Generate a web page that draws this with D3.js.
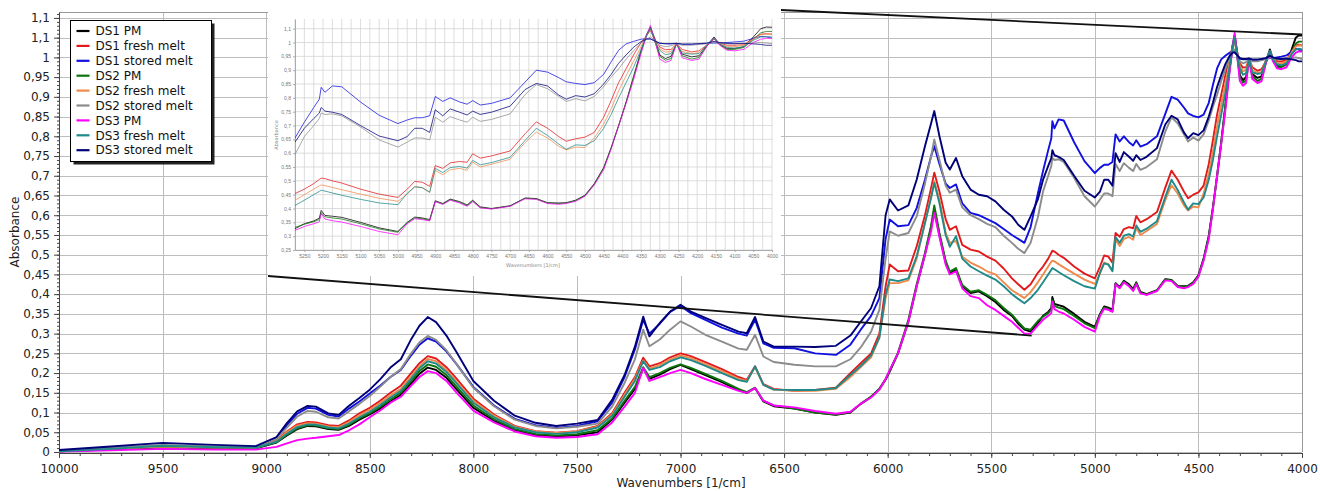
<!DOCTYPE html>
<html>
<head>
<meta charset="utf-8">
<script src="https://d3js.org/d3.v7.min.js"></script>
<style>
  body { margin: 0; background: #fff; }
  svg { display: block; font-family: "DejaVu Sans", Verdana, sans-serif; }
</style>
</head>
<body>
<svg id="chart" width="1320" height="491"></svg>
<script>
// wavenumber grid (1/cm), shared by every spectrum
const wavenumbers = [
  10000, 9750, 9500, 9250, 9050,
  8950, 8900, 8850, 8800, 8760, 8700, 8650, 8600, 8550, 8500, 8450, 8400, 8350, 8300, 8260, 8220, 8180, 8130, 8080, 8000, 7900, 7800, 7700, 7600, 7500,
  7400, 7330, 7270, 7220, 7180, 7150, 7100, 7050, 7000, 6950, 6880, 6800, 6720, 6680, 6640, 6600, 6550, 6450, 6350, 6250, 6180, 6130, 6080, 6040, 6010,
  5990, 5950, 5900, 5860, 5820, 5790, 5775, 5750, 5720, 5700, 5670, 5640, 5600, 5560, 5520, 5480, 5440, 5400, 5370, 5340, 5310,
  5275, 5250, 5225, 5210, 5205, 5195, 5175, 5150, 5100, 5050, 5000, 4975, 4955, 4935, 4915, 4900, 4880, 4860, 4835, 4815, 4800, 4780, 4750, 4700, 4660, 4630, 4600, 4570, 4550, 4525, 4500, 4475, 4450, 4430, 4410, 4390, 4370, 4350, 4335, 4325, 4312, 4300, 4285, 4270, 4255, 4240, 4215, 4195, 4175, 4155, 4140, 4120, 4100, 4075, 4050, 4030, 4015, 4000
];

const ds1PM = [
  0.002, 0.006, 0.012, 0.010, 0.009,
  0.024, 0.042, 0.058, 0.066, 0.065, 0.058, 0.056, 0.066, 0.082, 0.095, 0.11, 0.128, 0.145, 0.174, 0.198, 0.214, 0.208, 0.188, 0.158, 0.112, 0.079, 0.055, 0.043, 0.039, 0.042,
  0.05, 0.082, 0.125, 0.16, 0.212, 0.185, 0.196, 0.21, 0.221, 0.21, 0.195, 0.177, 0.157, 0.15, 0.162, 0.128, 0.116, 0.11, 0.1, 0.094, 0.1, 0.122, 0.14, 0.16, 0.183,
  0.204, 0.25, 0.33, 0.42, 0.5, 0.57, 0.615, 0.55, 0.48, 0.453, 0.462, 0.42, 0.403, 0.407, 0.395, 0.38, 0.36, 0.345, 0.325, 0.31, 0.305,
  0.327, 0.345, 0.355, 0.365, 0.393, 0.375, 0.372, 0.368, 0.35, 0.33, 0.317, 0.35, 0.369, 0.366, 0.36, 0.428, 0.418, 0.434, 0.425, 0.413, 0.43, 0.406, 0.4, 0.41, 0.438, 0.436, 0.421, 0.42, 0.421, 0.43, 0.448, 0.49, 0.548, 0.62, 0.70, 0.785, 0.877, 0.97, 1.03, 1.056, 1.01, 0.955, 0.942, 0.95, 0.996, 0.958, 0.948, 0.952, 0.988, 1.02, 0.995, 0.978, 0.978, 0.985, 1.02, 1.05, 1.056, 1.055
];
const ds1Fresh = [
  0.003, 0.008, 0.014, 0.011, 0.011,
  0.03, 0.052, 0.07, 0.076, 0.075, 0.068, 0.066, 0.08, 0.098, 0.112, 0.13, 0.15, 0.168, 0.2, 0.225, 0.243, 0.237, 0.215, 0.185, 0.135, 0.095, 0.066, 0.053, 0.049, 0.053,
  0.066, 0.098, 0.15, 0.19, 0.239, 0.217, 0.225, 0.24, 0.25, 0.243, 0.228, 0.21, 0.19, 0.183, 0.217, 0.172, 0.16, 0.155, 0.157, 0.163, 0.2, 0.225, 0.25, 0.3, 0.42,
  0.475, 0.458, 0.46, 0.521, 0.6, 0.67, 0.708, 0.66, 0.59, 0.563, 0.572, 0.525, 0.513, 0.508, 0.495, 0.485, 0.465, 0.44, 0.425, 0.411, 0.425,
  0.454, 0.47, 0.49, 0.505, 0.51, 0.508, 0.5, 0.492, 0.47, 0.452, 0.44, 0.47, 0.498, 0.495, 0.48, 0.555, 0.545, 0.565, 0.57, 0.567, 0.598, 0.582, 0.59, 0.608, 0.67, 0.713, 0.69, 0.66, 0.643, 0.652, 0.658, 0.675, 0.73, 0.79, 0.855, 0.905, 0.955, 1.0, 1.025, 1.044, 1.01, 0.984, 0.974, 0.975, 0.995, 0.975, 0.966, 0.97, 0.99, 1.012, 0.998, 0.99, 0.99, 0.992, 1.015, 1.03, 1.032, 1.03
];
const ds1Stored = [
  0.004, 0.010, 0.015, 0.013, 0.013,
  0.035, 0.068, 0.097, 0.112, 0.11, 0.094, 0.09, 0.11, 0.128, 0.148, 0.168, 0.19, 0.208, 0.245, 0.272, 0.288, 0.28, 0.255, 0.222, 0.165, 0.118, 0.084, 0.068, 0.061, 0.066,
  0.078, 0.125, 0.19, 0.26, 0.335, 0.3, 0.325, 0.355, 0.37, 0.352, 0.335, 0.315, 0.3, 0.295, 0.335, 0.275, 0.264, 0.263, 0.25, 0.246, 0.272, 0.31, 0.345, 0.39, 0.54,
  0.589, 0.572, 0.575, 0.618, 0.69, 0.75, 0.775, 0.73, 0.68, 0.669, 0.678, 0.63, 0.606, 0.6, 0.59, 0.58, 0.565, 0.55, 0.54, 0.53, 0.57,
  0.655, 0.712, 0.765, 0.795, 0.838, 0.82, 0.843, 0.84, 0.785, 0.737, 0.707, 0.72, 0.728, 0.728, 0.735, 0.805, 0.787, 0.80, 0.785, 0.777, 0.79, 0.774, 0.78, 0.80, 0.857, 0.9, 0.893, 0.873, 0.858, 0.852, 0.848, 0.855, 0.885, 0.93, 0.972, 0.995, 1.004, 1.012, 1.014, 1.013, 1.005, 0.998, 0.995, 0.995, 0.997, 0.993, 0.993, 0.995, 0.997, 0.998, 0.998, 1.0, 1.002, 1.005, 1.015, 1.022, 1.02, 1.016
];
const ds2PM = [
  0.002, 0.007, 0.013, 0.011, 0.010,
  0.025, 0.044, 0.06, 0.068, 0.067, 0.06, 0.058, 0.069, 0.085, 0.098, 0.114, 0.133, 0.15, 0.18, 0.205, 0.222, 0.216, 0.195, 0.165, 0.118, 0.083, 0.058, 0.046, 0.042, 0.045,
  0.055, 0.085, 0.13, 0.165, 0.215, 0.19, 0.2, 0.213, 0.222, 0.213, 0.198, 0.18, 0.16, 0.152, 0.163, 0.13, 0.118, 0.11, 0.1, 0.095, 0.101, 0.122, 0.14, 0.16, 0.185,
  0.206, 0.252, 0.335, 0.425, 0.505, 0.575, 0.625, 0.555, 0.485, 0.457, 0.466, 0.423, 0.406, 0.41, 0.398, 0.385, 0.365, 0.348, 0.33, 0.313, 0.31,
  0.332, 0.343, 0.352, 0.36, 0.385, 0.37, 0.366, 0.362, 0.345, 0.326, 0.314, 0.348, 0.366, 0.363, 0.357, 0.426, 0.416, 0.432, 0.422, 0.41, 0.428, 0.404, 0.399, 0.409, 0.437, 0.435, 0.42, 0.418, 0.42, 0.428, 0.446, 0.487, 0.545, 0.618, 0.698, 0.783, 0.875, 0.968, 1.028, 1.05, 1.0, 0.95, 0.936, 0.942, 0.996, 0.952, 0.94, 0.946, 0.985, 1.015, 0.992, 0.975, 0.975, 0.982, 1.012, 1.035, 1.04, 1.04
];
const ds2Fresh = [
  0.003, 0.008, 0.014, 0.011, 0.011,
  0.028, 0.05, 0.067, 0.073, 0.072, 0.065, 0.063, 0.076, 0.093, 0.107, 0.124, 0.143, 0.16, 0.192, 0.217, 0.236, 0.23, 0.208, 0.178, 0.13, 0.092, 0.064, 0.052, 0.048, 0.052,
  0.064, 0.095, 0.145, 0.185, 0.232, 0.212, 0.22, 0.235, 0.245, 0.238, 0.222, 0.205, 0.186, 0.18, 0.215, 0.17, 0.158, 0.155, 0.155, 0.16, 0.19, 0.215, 0.24, 0.29, 0.39,
  0.428, 0.428, 0.435, 0.49, 0.58, 0.65, 0.686, 0.64, 0.555, 0.53, 0.535, 0.495, 0.48, 0.47, 0.458, 0.45, 0.43, 0.41, 0.4, 0.39, 0.405,
  0.43, 0.45, 0.47, 0.482, 0.485, 0.483, 0.476, 0.468, 0.452, 0.437, 0.426, 0.452, 0.48, 0.476, 0.46, 0.538, 0.522, 0.54, 0.545, 0.538, 0.568, 0.55, 0.56, 0.578, 0.638, 0.676, 0.655, 0.625, 0.612, 0.622, 0.62, 0.655, 0.705, 0.76, 0.825, 0.88, 0.932, 0.985, 1.025, 1.045, 1.0, 0.978, 0.965, 0.968, 0.995, 0.968, 0.96, 0.963, 0.99, 1.015, 0.996, 0.985, 0.985, 0.99, 1.012, 1.028, 1.03, 1.03
];
const ds2Stored = [
  0.003, 0.010, 0.018, 0.014, 0.012,
  0.033, 0.062, 0.09, 0.104, 0.102, 0.088, 0.085, 0.103, 0.122, 0.142, 0.165, 0.19, 0.21, 0.25, 0.278, 0.294, 0.284, 0.258, 0.222, 0.163, 0.116, 0.082, 0.066, 0.06, 0.064,
  0.072, 0.115, 0.175, 0.235, 0.31, 0.268, 0.285, 0.31, 0.331, 0.318, 0.297, 0.28, 0.262, 0.259, 0.297, 0.242, 0.228, 0.221, 0.217, 0.217, 0.235, 0.265, 0.305, 0.36, 0.49,
  0.559, 0.548, 0.555, 0.597, 0.68, 0.75, 0.792, 0.74, 0.675, 0.657, 0.665, 0.62, 0.6, 0.59, 0.578, 0.57, 0.548, 0.53, 0.515, 0.504, 0.53,
  0.595, 0.66, 0.70, 0.725, 0.745, 0.74, 0.742, 0.735, 0.695, 0.648, 0.622, 0.64, 0.655, 0.655, 0.648, 0.73, 0.712, 0.732, 0.72, 0.712, 0.73, 0.715, 0.722, 0.742, 0.812, 0.848, 0.833, 0.805, 0.787, 0.797, 0.789, 0.805, 0.84, 0.875, 0.905, 0.94, 0.97, 0.998, 1.012, 1.02, 1.008, 0.99, 0.985, 0.988, 0.995, 0.99, 0.99, 0.993, 0.995, 1.0, 0.998, 0.995, 0.995, 0.997, 0.998, 1.0, 0.998, 0.996
];
const ds3PM = [
  0.001, 0.004, 0.008, 0.006, 0.006,
  0.013, 0.022, 0.03, 0.034, 0.036, 0.04, 0.043, 0.055, 0.07, 0.088, 0.105, 0.125, 0.14, 0.168, 0.19, 0.205, 0.2, 0.18, 0.15, 0.105, 0.075, 0.052, 0.04, 0.036, 0.038,
  0.045, 0.075, 0.115, 0.15, 0.213, 0.18, 0.19, 0.2, 0.208, 0.2, 0.185, 0.17, 0.155, 0.15, 0.162, 0.13, 0.118, 0.113, 0.104, 0.097, 0.102, 0.122, 0.138, 0.158, 0.185,
  0.208, 0.25, 0.33, 0.42, 0.5, 0.56, 0.606, 0.545, 0.475, 0.45, 0.458, 0.415, 0.395, 0.39, 0.372, 0.36, 0.345, 0.33, 0.315, 0.30, 0.30,
  0.321, 0.335, 0.345, 0.352, 0.381, 0.362, 0.356, 0.351, 0.335, 0.317, 0.305, 0.345, 0.363, 0.36, 0.355, 0.425, 0.415, 0.43, 0.42, 0.408, 0.425, 0.402, 0.398, 0.408, 0.435, 0.433, 0.418, 0.415, 0.418, 0.426, 0.444, 0.485, 0.54, 0.615, 0.70, 0.78, 0.865, 0.96, 1.025, 1.062, 1.0, 0.94, 0.928, 0.935, 0.996, 0.945, 0.935, 0.94, 0.985, 1.015, 0.99, 0.972, 0.97, 0.975, 1.0, 1.012, 1.015, 1.015
];
const ds3Fresh = [
  0.002, 0.008, 0.016, 0.012, 0.011,
  0.026, 0.046, 0.063, 0.07, 0.069, 0.062, 0.06, 0.072, 0.088, 0.102, 0.119, 0.138, 0.155, 0.186, 0.212, 0.23, 0.224, 0.203, 0.173, 0.125, 0.088, 0.062, 0.05, 0.046, 0.05,
  0.062, 0.092, 0.14, 0.18, 0.23, 0.208, 0.215, 0.23, 0.24, 0.233, 0.218, 0.2, 0.182, 0.178, 0.217, 0.17, 0.158, 0.157, 0.157, 0.162, 0.195, 0.218, 0.245, 0.29, 0.40,
  0.437, 0.433, 0.44, 0.496, 0.58, 0.645, 0.682, 0.63, 0.55, 0.52, 0.547, 0.49, 0.47, 0.458, 0.447, 0.437, 0.42, 0.4, 0.388, 0.377, 0.39,
  0.411, 0.43, 0.45, 0.462, 0.466, 0.463, 0.456, 0.448, 0.433, 0.42, 0.414, 0.455, 0.478, 0.475, 0.458, 0.545, 0.53, 0.548, 0.552, 0.546, 0.574, 0.558, 0.566, 0.585, 0.646, 0.69, 0.664, 0.633, 0.614, 0.63, 0.628, 0.645, 0.69, 0.74, 0.80, 0.855, 0.91, 0.975, 1.025, 1.05, 1.0, 0.972, 0.956, 0.96, 0.995, 0.962, 0.958, 0.96, 0.99, 1.016, 0.995, 0.982, 0.98, 0.985, 1.008, 1.02, 1.022, 1.02
];
const ds3Stored = [
  0.005, 0.014, 0.023, 0.018, 0.015,
  0.038, 0.073, 0.103, 0.117, 0.115, 0.098, 0.094, 0.117, 0.137, 0.158, 0.184, 0.214, 0.235, 0.286, 0.32, 0.342, 0.329, 0.295, 0.252, 0.18, 0.13, 0.092, 0.074, 0.066, 0.072,
  0.081, 0.132, 0.195, 0.267, 0.343, 0.293, 0.327, 0.356, 0.373, 0.356, 0.34, 0.322, 0.305, 0.301, 0.342, 0.28, 0.267, 0.267, 0.266, 0.269, 0.295, 0.33, 0.365, 0.42, 0.6,
  0.64, 0.612, 0.625, 0.69, 0.775, 0.834, 0.864, 0.8, 0.733, 0.716, 0.745, 0.699, 0.665, 0.652, 0.648, 0.635, 0.614, 0.597, 0.576, 0.563, 0.597,
  0.64, 0.69, 0.725, 0.745, 0.765, 0.752, 0.748, 0.74, 0.70, 0.662, 0.645, 0.66, 0.69, 0.69, 0.675, 0.757, 0.735, 0.76, 0.748, 0.738, 0.752, 0.74, 0.748, 0.77, 0.83, 0.852, 0.843, 0.81, 0.795, 0.808, 0.803, 0.815, 0.85, 0.885, 0.925, 0.955, 0.983, 1.003, 1.012, 1.013, 1.005, 0.997, 0.996, 0.996, 0.997, 0.995, 0.995, 0.996, 0.998, 1.004, 1.0, 0.997, 0.996, 0.997, 0.995, 0.993, 0.99, 0.99
];

const seriesNames = ["DS1 PM", "DS1 fresh melt", "DS1 stored melt", "DS2 PM", "DS2 fresh melt", "DS2 stored melt", "DS3 PM", "DS3 fresh melt", "DS3 stored melt"];
const seriesValues = [ds1PM, ds1Fresh, ds1Stored, ds2PM, ds2Fresh, ds2Stored, ds3PM, ds3Fresh, ds3Stored];
const seriesColors = ["#000000", "#e31a1c", "#1010e0", "#0d730d", "#f08a4b", "#8c8c8c", "#ff00ff", "#1f8a8a", "#00007a"];

// axis ticks and their labels as printed on the original
const xTicks = [10000, 9500, 9000, 8500, 8000, 7500, 7000, 6500, 6000, 5500, 5000, 4500, 4000];
const yTicks = [0, 0.05, 0.1, 0.15, 0.2, 0.25, 0.3, 0.35, 0.4, 0.45, 0.5, 0.55, 0.6, 0.65, 0.7, 0.75, 0.8, 0.85, 0.9, 0.95, 1, 1.05, 1.1];
const yTickLabels = ["0", "0,05", "0,1", "0,15", "0,2", "0,25", "0,3", "0,35", "0,4", "0,45", "0,5", "0,55", "0,6", "0,65", "0,7", "0,75", "0,8", "0,85", "0,9", "0,95", "1", "1,1", "1,1"];
const insetXTicks = [5250, 5200, 5150, 5100, 5050, 5000, 4950, 4900, 4850, 4800, 4750, 4700, 4650, 4600, 4550, 4500, 4450, 4400, 4350, 4300, 4250, 4200, 4150, 4100, 4050, 4000];
const insetYTicks = [0.25, 0.3, 0.35, 0.4, 0.45, 0.5, 0.55, 0.6, 0.65, 0.7, 0.75, 0.8, 0.85, 0.9, 0.95, 1, 1.05];
const insetYTickLabels = ["0,25", "0,3", "0,35", "0,4", "0,45", "0,5", "0,55", "0,6", "0,65", "0,7", "0,75", "0,8", "0,85", "0,9", "0,95", "1", "1,1"];

seriesValues.forEach((v, i) => {
  if (v.length !== wavenumbers.length) console.error(seriesNames[i] + " has " + v.length + " points, expected " + wavenumbers.length);
});

const svg = d3.select("#chart");
const plot = {left: 59, right: 1302, top: 12, bottom: 452};

const x = d3.scaleLinear().domain([10000, 4000]).range([plot.left, plot.right]);
const y = d3.scaleLinear().domain([0, 1.115]).range([plot.bottom, plot.top]);

// grid
const grid = svg.append("g").attr("stroke", "#bdbdbd").attr("stroke-width", 1);
grid.selectAll("line.h").data(yTicks).join("line")
  .attr("x1", plot.left).attr("x2", plot.right)
  .attr("y1", d => Math.round(y(d)) + 0.5).attr("y2", d => Math.round(y(d)) + 0.5);
grid.selectAll("line.v").data(xTicks).join("line")
  .attr("y1", plot.top).attr("y2", plot.bottom)
  .attr("x1", d => Math.round(x(d)) + 0.5).attr("x2", d => Math.round(x(d)) + 0.5);
svg.append("line").attr("x1", plot.left).attr("x2", plot.right).attr("y1", plot.top + 0.5).attr("y2", plot.top + 0.5)
  .attr("stroke", "#999");
svg.append("line").attr("x1", plot.right + 0.5).attr("x2", plot.right + 0.5).attr("y1", plot.top).attr("y2", plot.bottom)
  .attr("stroke", "#999");

// axes
const yAxis = svg.append("g").attr("transform", `translate(${plot.left},0)`)
  .call(d3.axisLeft(y).tickValues(yTicks).tickFormat((d, i) => yTickLabels[i]).tickSize(5).tickSizeOuter(0).tickPadding(4));
svg.append("g").attr("transform", `translate(${plot.left},0)`)
  .call(d3.axisLeft(y).tickValues(d3.range(0, 1.111, 0.01)).tickFormat("").tickSize(2).tickSizeOuter(0))
  .select(".domain").remove();
const xAxis = svg.append("g").attr("transform", `translate(0,${plot.bottom + 1})`)
  .call(d3.axisBottom(x).tickValues(xTicks).tickFormat(d => d).tickSize(5).tickSizeOuter(0).tickPadding(6));
svg.append("g").attr("transform", `translate(0,${plot.bottom + 1})`)
  .call(d3.axisBottom(x).tickValues(d3.range(4000, 10001, 100)).tickFormat("").tickSize(3).tickSizeOuter(0))
  .select(".domain").remove();
svg.selectAll(".tick text").attr("font-size", 12).attr("fill", "#222").attr("font-family", "DejaVu Sans, Verdana, sans-serif");
svg.selectAll(".domain, .tick line").attr("stroke", "#444");

svg.append("text").attr("transform", "translate(19,232) rotate(-90)")
  .attr("text-anchor", "middle").attr("font-size", 12).attr("fill", "#222").text("Absorbance");
svg.append("text").attr("x", 681).attr("y", 487)
  .attr("text-anchor", "middle").attr("font-size", 12).attr("fill", "#222").text("Wavenumbers [1/cm]");

// spectra
const line = d3.line().x((d, i) => x(wavenumbers[i])).y(d => y(d));
svg.append("g").selectAll("path").data(seriesValues).join("path")
  .attr("d", line)
  .attr("fill", "none")
  .attr("stroke", (d, i) => seriesColors[i])
  .attr("stroke-width", 1.9)
  .attr("stroke-linejoin", "round");

// inset: zoom of 5275-4000 1/cm
const inset = {left: 268, right: 781, top: 10, bottom: 276};
const ip = {left: 295, right: 772, top: 19, bottom: 250};
const xi = d3.scaleLinear().domain([5275, 4000]).range([ip.left, ip.right]);
const yi = d3.scaleLinear().domain([0.25, 1.085]).range([ip.bottom, ip.top]);

const gi = svg.append("g");
gi.append("rect").attr("x", inset.left).attr("y", inset.top)
  .attr("width", inset.right - inset.left).attr("height", inset.bottom - inset.top).attr("fill", "#fff");
gi.append("clipPath").attr("id", "insetClip").append("rect")
  .attr("x", ip.left).attr("y", ip.top).attr("width", ip.right - ip.left).attr("height", ip.bottom - ip.top);

const igrid = gi.append("g").attr("stroke", "#d4d4d4").attr("stroke-width", 0.8);
igrid.selectAll("line.h").data(insetYTicks).join("line")
  .attr("x1", ip.left).attr("x2", ip.right).attr("y1", d => yi(d)).attr("y2", d => yi(d));
igrid.selectAll("line.v").data(d3.range(4000, 5276, 25)).join("line")
  .attr("y1", ip.top).attr("y2", ip.bottom).attr("x1", d => xi(d)).attr("x2", d => xi(d));

gi.append("g").attr("transform", `translate(${ip.left},0)`)
  .call(d3.axisLeft(yi).tickValues(insetYTicks).tickFormat((d, i) => insetYTickLabels[i]).tickSize(2).tickSizeOuter(0).tickPadding(2));
gi.append("g").attr("transform", `translate(0,${ip.bottom})`)
  .call(d3.axisBottom(xi).tickValues(insetXTicks).tickFormat(d => d).tickSize(2).tickSizeOuter(0).tickPadding(2));
gi.selectAll(".tick text").attr("font-size", 5).attr("fill", "#777");
gi.selectAll(".domain, .tick line").attr("stroke", "#999").attr("stroke-width", 0.8);
gi.append("text").attr("transform", "translate(278,135) rotate(-90)")
  .attr("text-anchor", "middle").attr("font-size", 5).attr("fill", "#888").text("Absorbance");
gi.append("text").attr("x", 533).attr("y", 267)
  .attr("text-anchor", "middle").attr("font-size", 5).attr("fill", "#888").text("Wavenumbers [1/cm]");

const iline = d3.line().x((d, i) => xi(wavenumbers[i])).y(d => yi(d));
gi.append("g").attr("clip-path", "url(#insetClip)")
  .selectAll("path").data(seriesValues).join("path")
  .attr("d", iline)
  .attr("fill", "none")
  .attr("stroke", (d, i) => seriesColors[i])
  .attr("stroke-opacity", 0.75)
  .attr("stroke-width", 1)
  .attr("stroke-linejoin", "round");

// lines linking the inset to the zoomed region
const links = svg.append("g").attr("stroke", "#111").attr("stroke-width", 1.8);
links.append("line").attr("x1", inset.left).attr("y1", inset.bottom).attr("x2", x(5305)).attr("y2", y(0.295));
links.append("line").attr("x1", inset.right).attr("y1", inset.top).attr("x2", x(4000)).attr("y2", y(1.058));

// legend
const lg = svg.append("g").attr("transform", "translate(70.5,20.5)");
lg.append("rect").attr("x", 3).attr("y", 3).attr("width", 141).attr("height", 141).attr("fill", "#222");
lg.append("rect").attr("width", 141).attr("height", 141).attr("fill", "#fff").attr("stroke", "#000");
const items = lg.selectAll("g.item").data(seriesNames).join("g")
  .attr("transform", (d, i) => `translate(0,${10.5 + i * 14.9})`);
items.append("line").attr("x1", 6).attr("x2", 19)
  .attr("stroke", (d, i) => seriesColors[i]).attr("stroke-width", 2.2);
items.append("text").attr("x", 25).attr("dy", "0.35em")
  .attr("font-size", 12).attr("fill", "#111").text(d => d);
</script>
</body>
</html>
